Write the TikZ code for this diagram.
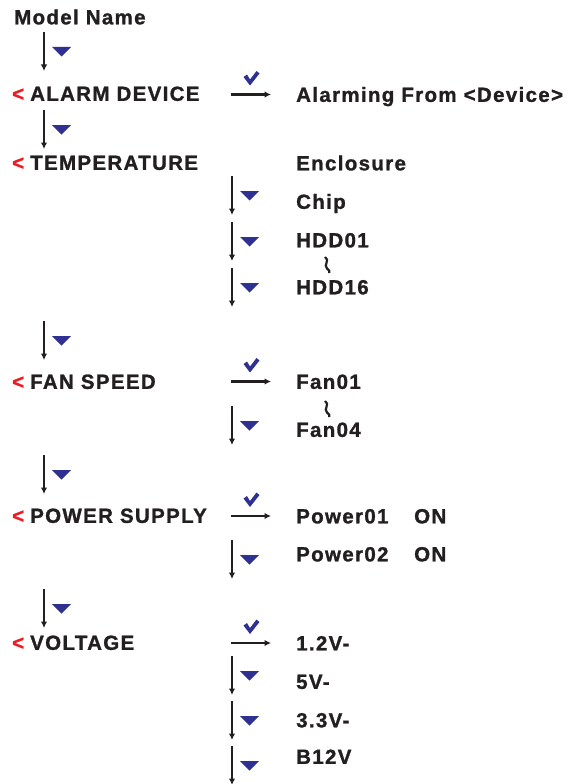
\documentclass[tikz,border=0pt]{standalone}
\usepackage{fontspec}
\setmainfont{Liberation Sans}[LetterSpace=6.5, BoldFeatures={FakeBold=1.2}]
\usetikzlibrary{arrows.meta}

\definecolor{inkblack}{RGB}{35,31,32}
\definecolor{keyblue}{RGB}{46,49,146}
\definecolor{backred}{RGB}{237,28,36}

\begin{document}
\begin{tikzpicture}[
    x=1pt, y=-1pt,
    %% one unit = one pixel of the sheet, y grows downwards
    %% Menu column:  x = 30   (back marker at x = 12, down keys at x = 44)
    %% Item column:  x = 296  (down keys at x = 232, enter arrows 231-271)
    item/.style={anchor=west, inner sep=0pt, text height=14.7pt, text depth=0pt,
                 font=\fontsize{20.5}{24}\selectfont\bfseries, text=inkblack},
    back/.style={item, text=backred},
    navarrow/.style={draw=inkblack, line width=2.3pt,
                     -{Latex[length=6.5pt,width=6.5pt]}},
    downkey/.pic={
        \draw[navarrow] (0,0) -- (0,39);
        \fill[keyblue] (8,15) -- (27,15) -- (17.5,24.5) -- cycle;
    },
    tick/.pic={
        \fill[keyblue] (0,0) -- (-6.5,-8.5) -- (-3,-11) -- (0,-6)
                       -- (6.5,-14.5) -- (9.5,-12) -- cycle;
    },
    wave/.pic={
        \draw[inkblack, line width=2.2pt] (-2,-8) .. controls (3.5,-5) and (-4,0) .. (0,3.5)
            .. controls (2.5,5.5) .. (2.2,8);
    },
]
\useasboundingbox (0,0) rectangle (569,784);

%% ── Top ──────────────────────────────────────────────────────────────────
\node[item] (model) at (14,17) {Model Name};
\pic at (44,32) {downkey};

%% ── ALARM DEVICE ─────────────────────────────────────────────────────────
\node[back] (back1) at (12,93.5) {<};
\node[item] (alarm) at (30,93.5) {ALARM DEVICE};
\node[item] (alarmfrom) at (296,94.5) {Alarming From <Device>};
\draw[navarrow] ([xshift=-65pt]alarmfrom.west) -- ([xshift=-25pt]alarmfrom.west);
\pic at ([xshift=-46pt,yshift=9pt]alarmfrom.west) {tick};
\pic at (44,110) {downkey};

%% ── TEMPERATURE ──────────────────────────────────────────────────────────
\node[back] (back2) at (12,162.5) {<};
\node[item] (temp) at (30,162.5) {TEMPERATURE};
\node[item] (encl)  at (296,163) {Enclosure};
\pic at (232,176) {downkey};
\node[item] (chip)  at (296,201.5) {Chip};
\pic at (232,222) {downkey};
\node[item] (hdd01) at (296,240) {HDD01};
\pic at (327,265) {wave};
\pic at (232,268) {downkey};
\node[item] (hdd16) at (296,287) {HDD16};

%% ── FAN SPEED ────────────────────────────────────────────────────────────
\pic at (44,321) {downkey};
\node[back] (back3) at (12,381.5) {<};
\node[item] (fan) at (30,381.5) {FAN SPEED};
\node[item] (fan01) at (296,381.5) {Fan01};
\draw[navarrow] ([xshift=-65pt]fan01.west) -- ([xshift=-25pt]fan01.west);
\pic at ([xshift=-46pt,yshift=9pt]fan01.west) {tick};
\pic at (327,409) {wave};
\pic at (232,406) {downkey};
\node[item] (fan04) at (296,429.5) {Fan04};

%% ── POWER SUPPLY ─────────────────────────────────────────────────────────
\pic at (44,455) {downkey};
\node[back] (back4) at (12,515.5) {<};
\node[item] (power) at (30,515.5) {POWER SUPPLY};
\node[item] (pw01)   at (296,516) {Power01};
\node[item] (pw01on) at (414,516) {ON};
\draw[navarrow] ([xshift=-65pt]pw01.west) -- ([xshift=-25pt]pw01.west);
\pic at ([xshift=-46pt,yshift=9pt]pw01.west) {tick};
\pic at (232,540) {downkey};
\node[item] (pw02)   at (296,554) {Power02};
\node[item] (pw02on) at (414,554) {ON};

%% ── VOLTAGE ──────────────────────────────────────────────────────────────
\pic at (44,589) {downkey};
\node[back] (back5) at (12,642.5) {<};
\node[item] (volt) at (30,642.5) {VOLTAGE};
\node[item] (v12) at (296,643) {1.2V-};
\draw[navarrow] ([xshift=-65pt]v12.west) -- ([xshift=-25pt]v12.west);
\pic at ([xshift=-46pt,yshift=9pt]v12.west) {tick};
\pic at (232,656) {downkey};
\node[item] (v5)  at (296,681.5) {5V-};
\pic at (232,701) {downkey};
\node[item] (v33) at (296,720) {3.3V-};
\pic at (232,746) {downkey};
\node[item] (vb12) at (296,756.5) {B12V};

\end{tikzpicture}
\end{document}
